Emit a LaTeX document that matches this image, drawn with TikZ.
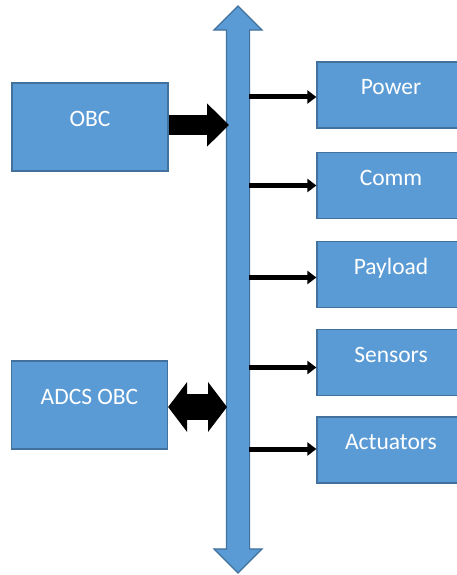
\documentclass[tikz,border=0pt]{standalone}
\usepackage{fontspec}
\setmainfont{Carlito}
\usepackage{tikz}
\usetikzlibrary{positioning,shapes.arrows,arrows.meta}
\definecolor{boxblue}{RGB}{91,155,213}
\definecolor{edgeblue}{RGB}{65,113,156}
\tikzset{
		unit/.style = 	{rectangle, fill=boxblue, draw=edgeblue, line width=1.2pt, text=white,
		                 font=\fontsize{23.5}{28}\selectfont, text height=15pt, text depth=16pt,
		                 inner sep=0pt, minimum height=66pt, minimum width=148pt},
		obcbox/.style = 	{unit, minimum height=88pt, minimum width=156pt},
		bus/.style = 		{double arrow, fill=boxblue, draw=edgeblue, line width=1.2pt, rotate=90,
		                 minimum height=567pt, double arrow head extend=12.5pt,
		                 inner xsep=0pt, inner ysep=11pt},
		link/.style = 		{line width=5pt, -{Triangle[length=9pt,width=13pt]}},
		cmd/.style = 		{line width=20pt, -{Triangle[length=22pt,width=42pt]}},
		duplex/.style = 	{line width=26pt, {Triangle[length=19pt,width=49pt]}-{Triangle[length=19pt,width=49pt]}},
		node distance=2.3cm
}

\begin{document}
\begin{tikzpicture}[x=1pt,y=-1pt]
  \useasboundingbox (0,0) rectangle (457,575);
  \clip (0,0) rectangle (457,575);

  \node [bus] (bus) at (238,289.5) {};
  \path (bus.center) +(-11,0) coordinate (busL) +(11,0) coordinate (busR);

  \node [obcbox] (obc)  at (90,127)  {OBC};
  \node [obcbox] (adcs) at (89.5,405) {ADCS OBC};

  \foreach \name/\txt/\y in {power/Power/95, comm/Comm/185.5, payload/Payload/274.5,
                            sensors/Sensors/362.5, actuators/Actuators/450}
       \node [unit] (\name) at (391,\y) {\txt};

  \foreach \name/\dy in {power/-2, comm/0, payload/-3, sensors/-5, actuators/1}
      \draw [link] ([yshift=\dy pt]busR |- \name.west) -- ([yshift=\dy pt]\name.west);

  \draw [cmd] ([yshift=2pt]obc.east) -- ([xshift=2pt,yshift=2pt]busL |- obc.east);
  \draw [duplex] ([yshift=-2pt]adcs.east) -- ([yshift=-2pt]busL |- adcs.east);

\end{tikzpicture}
\end{document}
